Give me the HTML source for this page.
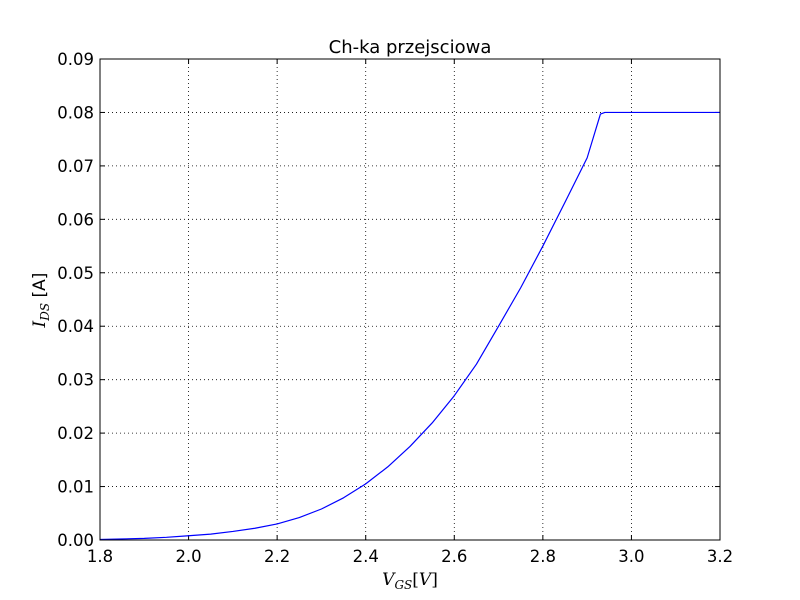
<!DOCTYPE html>
<html><head><meta charset="utf-8"><style>
body{margin:0;background:#fff;}
svg{display:block;font-family:"DejaVu Sans","Liberation Sans",sans-serif;}
</style></head><body>
<svg id="chart" width="800" height="600">
<rect x="0" y="0" width="800" height="600" fill="#fff"/>
<g id="grid"></g>
<g id="ticks"></g>
<polyline id="curve" fill="none" stroke="#0000ff" stroke-width="1.2" stroke-linejoin="round"/>
<rect x="100" y="59" width="620" height="481" fill="none" stroke="#000" stroke-width="1"/>
<text x="410" y="53" text-anchor="middle" font-size="18">Ch-ka przejsciowa</text>
<text x="410" y="585" text-anchor="middle" font-size="17" font-family="'DejaVu Serif','Liberation Serif',serif" font-style="italic">V<tspan font-size="12" dy="4">GS</tspan><tspan dy="-4" font-style="normal">[</tspan>V<tspan font-style="normal">]</tspan></text>
<text transform="translate(45,300) rotate(-90)" text-anchor="middle" font-size="17"><tspan font-family="'DejaVu Serif','Liberation Serif',serif" font-style="italic">I</tspan><tspan font-family="'DejaVu Serif','Liberation Serif',serif" font-style="italic" font-size="12" dy="4">DS</tspan><tspan dy="-4"> [A]</tspan></text>
</svg>
<script>
const xTicks=[1.8,2.0,2.2,2.4,2.6,2.8,3.0,3.2];
const yTicks=[0,0.01,0.02,0.03,0.04,0.05,0.06,0.07,0.08,0.09];
const vgs=[1.8,1.85,1.9,1.95,2.0,2.05,2.1,2.15,2.2,2.25,2.3,2.35,2.4,2.45,2.5,2.55,2.6,2.65,2.7,2.75,2.8,2.85,2.9,2.93,2.94,3.0,3.1,3.2];
const ids=[0.0001,0.0002,0.0003,0.0005,0.0008,0.0011,0.0016,0.0022,0.003,0.0042,0.0058,0.0079,0.0105,0.0137,0.0175,0.0219,0.027,0.0329,0.040,0.0472,0.055,0.0632,0.0715,0.0797,0.080,0.080,0.080,0.080];
const X0=100,X1=720,Y0=540,Y1=59;
const xs=v=>X0+(v-1.8)/(3.2-1.8)*(X1-X0);
const ys=v=>Y0-(v-0)/(0.09-0)*(Y0-Y1);
const NS="http://www.w3.org/2000/svg";
const grid=document.getElementById('grid'),ticks=document.getElementById('ticks');
function mk(tag,attrs,parent){const e=document.createElementNS(NS,tag);for(const k in attrs)e.setAttribute(k,attrs[k]);parent.appendChild(e);return e;}
xTicks.forEach(t=>{const x=xs(t);
 const g=mk('line',{x1:x,x2:x,y1:Y1,y2:Y0,stroke:'#000','stroke-width':0.8,'stroke-dasharray':'1,3'},grid);
 
 
 const a=mk('line',{x1:x,x2:x,y1:Y0,y2:Y0-5,stroke:'#000'},ticks);
 
 
 const b=mk('line',{x1:x,x2:x,y1:Y1,y2:Y1+5,stroke:'#000'},ticks);
 
 
 const l=mk('text',{x:x,y:Y0+22,'text-anchor':'middle','font-size':16.5},ticks);l.textContent=t.toFixed(1);
 
 
});
yTicks.forEach(t=>{const y=ys(t);
 const g=mk('line',{x1:X0,x2:X1,y1:y,y2:y,stroke:'#000','stroke-width':0.8,'stroke-dasharray':'1,3'},grid);
 
 
 const a=mk('line',{x1:X0,x2:X0+5,y1:y,y2:y,stroke:'#000'},ticks);
 
 
 const b=mk('line',{x1:X1,x2:X1-5,y1:y,y2:y,stroke:'#000'},ticks);
 
 
 const l=mk('text',{x:X0-6,y:y+6,'text-anchor':'end','font-size':16.5},ticks);l.textContent=t.toFixed(2);
 
 
});
document.getElementById('curve').setAttribute('points',vgs.map((v,i)=>xs(v).toFixed(2)+','+ys(ids[i]).toFixed(2)).join(' '));
</script>
</body></html>
